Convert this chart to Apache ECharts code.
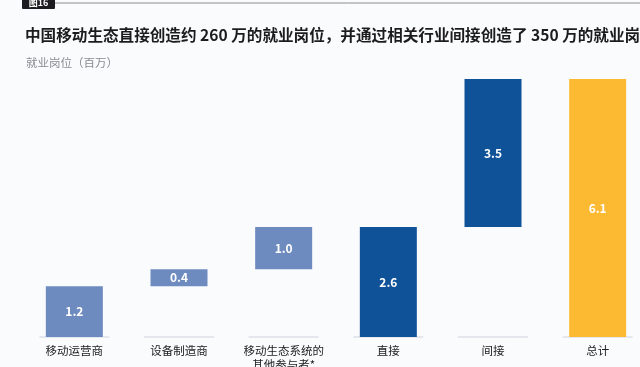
<!DOCTYPE html>
<html><head><meta charset="utf-8">
<script src="https://cdn.jsdelivr.net/npm/echarts@6/dist/echarts.min.js"></script>
<style>html,body{margin:0;padding:0;background:#fafbfd;}#c{width:640px;height:367px;}</style>
</head><body><div id="c"></div>
<script>
const categories = ['移动运营商', '设备制造商', '移动生态系统的其他参与者*', '直接', '间接', '总计'];
const values = [1.2, 0.4, 1.0, 2.6, 3.5, 6.1];
const bases = [0, 1.2, 1.6, 0, 2.6, 0];
const barColors = ['#6e8bbf', '#6e8bbf', '#6e8bbf', '#0f5298', '#0f5298', '#fcba33'];
const titleText = '中国移动生态直接创造约 260 万的就业岗位，并通过相关行业间接创造了 350 万的就业岗位';
const unitText = '就业岗位（百万）';
const tagText = '图16';

const FONT = '"Noto Sans CJK SC", "Noto Sans", sans-serif';
const chart = echarts.init(document.getElementById('c'));
chart.setOption({
  backgroundColor: '#fafbfd',
  animation: false,
  textStyle: {fontFamily: FONT},
  title: [
    {text: titleText, left: 20, top: 22, textStyle: {fontSize: 15.6, fontWeight: 'bold', color: '#1c1c1e', fontFamily: FONT}},
    {text: unitText, left: 21, top: 52, textStyle: {fontSize: 11.5, fontWeight: 'normal', color: '#8a8a8f', fontFamily: FONT}}
  ],
  graphic: [
    {type: 'line', shape: {x1: 55, y1: 3, x2: 640, y2: 3}, style: {stroke: '#8c8c8c', lineWidth: 1}},
    {type: 'rect', shape: {x: 22, y: -6, width: 33, height: 15, r: 1}, style: {fill: '#1b1b20'}},
    {type: 'text', x: 38.5, y: 2.5, style: {text: tagText, fill: '#ffffff', font: 'bold 9px ' + FONT, textAlign: 'center', textVerticalAlign: 'middle'}}
  ],
  grid: {left: 22, width: 628, top: 79, bottom: 30, outerBoundsMode: 'none', containLabel: false},
  xAxis: {
    type: 'category', data: categories,
    axisLine: {show: false}, axisTick: {show: false},
    axisLabel: {
      margin: 7, fontSize: 11.5, color: '#222', lineHeight: 14, fontFamily: FONT, interval: 0,
      formatter: v => v.length > 7 ? v.slice(0, 7) + '\n' + v.slice(7) : v
    }
  },
  yAxis: {type: 'value', min: 0, max: 6.1, show: false, splitLine: {show: false}},
  series: [
    {type: 'bar', stack: 'w', data: bases, barWidth: 57, itemStyle: {color: 'transparent'}, silent: true},
    {type: 'bar', stack: 'w', data: values.map((v, i) => ({value: v, itemStyle: {color: barColors[i]}})), barWidth: 57,
      label: {show: true, position: 'inside', color: '#fff', fontWeight: 'bold', fontSize: 12, fontFamily: FONT,
        formatter: p => p.value.toFixed(1)}},
    {type: 'scatter', data: categories.map(() => 0), symbol: 'rect', symbolSize: [70, 2],
      itemStyle: {color: '#dfe3ea'}, z: 1, silent: true}
  ]
});
</script></body></html>
